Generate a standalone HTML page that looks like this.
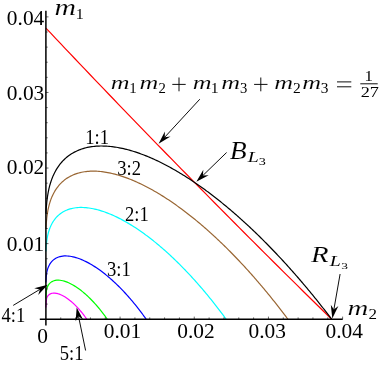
<!DOCTYPE html>
<html><head><meta charset="utf-8"><title>chart</title>
<style>html,body{margin:0;padding:0;background:#fff;}body{width:383px;height:365px;overflow:hidden;position:relative;font-family:"Liberation Serif",serif;}</style>
</head><body>
<svg width="383" height="365" viewBox="0 0 383 365" style="position:absolute;left:0;top:0;will-change:transform">
<rect width="383" height="365" fill="#fff"/>
<path d="M45.90 28.06 L50.74 33.19 L55.58 38.32 L60.42 43.44 L65.26 48.55 L70.10 53.65 L74.94 58.75 L79.78 63.84 L84.61 68.92 L89.45 73.99 L94.29 79.06 L99.13 84.12 L103.97 89.18 L108.81 94.22 L113.65 99.26 L118.49 104.30 L123.33 109.32 L128.17 114.34 L133.01 119.35 L137.85 124.36 L142.69 129.35 L147.53 134.35 L152.36 139.33 L157.20 144.31 L162.04 149.28 L166.88 154.24 L171.72 159.19 L176.56 164.14 L181.40 169.09 L186.24 174.02 L191.08 178.95 L195.92 183.87 L200.76 188.79 L205.60 193.70 L210.44 198.60 L215.28 203.49 L220.11 208.38 L224.95 213.26 L229.79 218.14 L234.63 223.00 L239.47 227.87 L244.31 232.72 L249.15 237.57 L253.99 242.41 L258.83 247.24 L263.67 252.07 L268.51 256.89 L273.35 261.71 L278.19 266.52 L283.03 271.32 L287.87 276.11 L292.70 280.90 L297.54 285.68 L302.38 290.46 L307.22 295.23 L312.06 299.99 L316.90 304.75 L321.74 309.50 L326.58 314.24 L331.42 318.98" stroke="#ff0000" stroke-width="1.20" fill="none" stroke-linejoin="round"/>
<path d="M45.90 307.51 L46.20 302.51 L46.60 298.51 L47.06 297.29 L47.64 296.23 L48.39 295.27 L49.46 294.35 L50.73 293.67 L52.13 293.25 L53.54 293.09 L54.81 293.11 L56.28 293.30 L58.00 293.70 L59.30 294.12 L60.74 294.70 L61.85 295.21 L63.30 295.96 L64.75 296.80 L66.19 297.72 L67.64 298.73 L68.61 299.44 L69.57 300.19 L70.54 300.97 L71.50 301.78 L72.47 302.63 L73.44 303.51 L74.40 304.42 L75.37 305.37 L76.33 306.35 L77.30 307.36 L78.26 308.41 L79.23 309.49 L80.19 310.61 L81.16 311.76 L82.12 312.95 L83.09 314.17 L84.06 315.44 L85.02 316.74 L85.99 318.08 L86.77 319.20" stroke="#ff00ff" stroke-width="1.20" fill="none" stroke-linejoin="round"/>
<path d="M45.90 298.57 L46.20 293.57 L46.60 289.57 L46.95 288.27 L47.39 287.02 L47.93 285.87 L48.66 284.66 L49.46 283.64 L50.49 282.63 L51.53 281.87 L52.80 281.19 L53.94 280.75 L55.27 280.41 L56.82 280.20 L58.63 280.17 L60.00 280.27 L61.37 280.47 L62.82 280.77 L64.26 281.16 L65.71 281.63 L67.16 282.17 L68.61 282.78 L70.06 283.46 L71.50 284.20 L72.95 285.01 L74.40 285.87 L75.85 286.78 L77.30 287.75 L78.75 288.77 L80.19 289.85 L81.16 290.59 L82.12 291.36 L83.09 292.15 L84.06 292.96 L85.02 293.79 L85.99 294.64 L86.95 295.52 L87.92 296.42 L88.88 297.34 L89.85 298.28 L90.81 299.24 L91.78 300.23 L92.74 301.24 L93.71 302.27 L94.68 303.32 L95.64 304.39 L96.61 305.49 L97.57 306.61 L98.54 307.76 L99.50 308.92 L100.47 310.12 L101.43 311.33 L102.40 312.57 L103.36 313.84 L104.33 315.13 L105.30 316.45 L106.26 317.79 L107.25 319.20" stroke="#00ff00" stroke-width="1.20" fill="none" stroke-linejoin="round"/>
<path d="M45.90 282.43 L46.20 277.43 L46.60 273.43 L46.84 272.08 L47.12 270.86 L47.47 269.54 L47.93 268.14 L48.39 266.95 L48.95 265.71 L49.64 264.42 L50.49 263.11 L51.25 262.11 L52.13 261.12 L53.16 260.14 L54.36 259.19 L55.76 258.30 L57.40 257.50 L58.63 257.02 L60.00 256.61 L61.37 256.31 L62.82 256.10 L64.26 255.97 L65.71 255.94 L67.16 255.98 L68.61 256.09 L70.06 256.27 L71.50 256.51 L72.95 256.80 L74.40 257.15 L75.85 257.56 L77.30 258.01 L78.75 258.51 L80.19 259.05 L81.64 259.63 L83.09 260.26 L84.54 260.93 L85.99 261.63 L87.43 262.37 L88.88 263.15 L90.33 263.97 L91.78 264.82 L93.23 265.70 L94.68 266.62 L96.12 267.57 L97.57 268.55 L99.02 269.57 L100.47 270.61 L101.43 271.33 L102.40 272.06 L103.36 272.80 L104.33 273.55 L105.30 274.32 L106.26 275.10 L107.23 275.90 L108.19 276.71 L109.16 277.53 L110.12 278.36 L111.09 279.21 L112.05 280.07 L113.02 280.95 L113.98 281.84 L114.95 282.74 L115.92 283.65 L116.88 284.58 L117.85 285.52 L118.81 286.47 L119.78 287.44 L120.74 288.42 L121.71 289.41 L122.67 290.42 L123.64 291.43 L124.60 292.47 L125.57 293.51 L126.54 294.57 L127.50 295.65 L128.47 296.73 L129.43 297.83 L130.40 298.95 L131.36 300.08 L132.33 301.22 L133.29 302.37 L134.26 303.54 L135.22 304.73 L136.19 305.93 L137.16 307.14 L138.12 308.37 L139.09 309.61 L140.05 310.87 L141.02 312.15 L141.98 313.44 L142.95 314.74 L143.91 316.06 L144.88 317.40 L146.16 319.20" stroke="#0000ff" stroke-width="1.20" fill="none" stroke-linejoin="round"/>
<path d="M45.90 251.41 L46.20 246.41 L46.60 242.41 L46.75 241.11 L46.95 239.71 L47.18 238.22 L47.47 236.64 L47.73 235.38 L48.04 234.07 L48.39 232.70 L48.80 231.27 L49.28 229.78 L49.84 228.23 L50.49 226.63 L50.98 225.54 L51.53 224.42 L52.13 223.29 L52.80 222.14 L53.54 220.97 L54.36 219.80 L55.27 218.62 L56.28 217.45 L57.40 216.28 L58.63 215.12 L60.00 213.99 L61.37 213.00 L62.82 212.07 L64.26 211.26 L65.71 210.55 L67.16 209.93 L68.61 209.40 L70.06 208.94 L71.50 208.56 L72.95 208.23 L74.40 207.97 L75.85 207.77 L77.30 207.62 L78.75 207.52 L80.19 207.46 L81.64 207.45 L83.09 207.48 L84.54 207.56 L85.99 207.67 L87.43 207.82 L88.88 208.00 L90.33 208.22 L91.78 208.47 L93.23 208.75 L94.68 209.06 L96.12 209.41 L97.57 209.78 L99.02 210.18 L100.47 210.60 L101.92 211.06 L103.36 211.54 L104.81 212.04 L106.26 212.57 L107.71 213.12 L109.16 213.70 L110.61 214.29 L112.05 214.91 L113.50 215.56 L114.95 216.22 L116.40 216.91 L117.85 217.62 L119.29 218.34 L120.74 219.09 L122.19 219.86 L123.64 220.65 L125.09 221.45 L126.54 222.28 L127.98 223.12 L129.43 223.99 L130.88 224.87 L132.33 225.77 L133.78 226.68 L135.22 227.62 L136.67 228.57 L138.12 229.55 L139.57 230.53 L141.02 231.54 L142.47 232.56 L143.91 233.60 L145.36 234.66 L146.33 235.37 L147.29 236.09 L148.26 236.82 L149.22 237.56 L150.19 238.30 L151.15 239.05 L152.12 239.81 L153.09 240.57 L154.05 241.35 L155.02 242.12 L155.98 242.91 L156.95 243.70 L157.91 244.51 L158.88 245.31 L159.84 246.13 L160.81 246.95 L161.77 247.78 L162.74 248.62 L163.71 249.46 L164.67 250.31 L165.64 251.17 L166.60 252.03 L167.57 252.90 L168.53 253.78 L169.50 254.67 L170.46 255.56 L171.43 256.46 L172.39 257.37 L173.36 258.28 L174.33 259.20 L175.29 260.13 L176.26 261.07 L177.22 262.01 L178.19 262.96 L179.15 263.91 L180.12 264.87 L181.08 265.84 L182.05 266.82 L183.01 267.81 L183.98 268.80 L184.95 269.79 L185.91 270.80 L186.88 271.81 L187.84 272.83 L188.81 273.86 L189.77 274.89 L190.74 275.93 L191.70 276.98 L192.67 278.04 L193.63 279.10 L194.60 280.17 L195.57 281.24 L196.53 282.33 L197.50 283.42 L198.46 284.52 L199.43 285.62 L200.39 286.74 L201.36 287.86 L202.32 288.98 L203.29 290.12 L204.25 291.26 L205.22 292.41 L206.19 293.57 L207.15 294.74 L208.12 295.91 L209.08 297.09 L210.05 298.28 L211.01 299.47 L211.98 300.68 L212.94 301.89 L213.91 303.11 L214.87 304.33 L215.84 305.57 L216.81 306.81 L217.77 308.06 L218.74 309.32 L219.70 310.58 L220.67 311.86 L221.63 313.14 L222.60 314.43 L223.56 315.73 L224.53 317.04 L225.49 318.35 L226.11 319.20" stroke="#00ffff" stroke-width="1.20" fill="none" stroke-linejoin="round"/>
<path d="M45.90 228.84 L46.20 223.84 L46.60 219.84 L46.75 218.27 L46.89 217.01 L47.06 215.70 L47.25 214.31 L47.47 212.86 L47.73 211.33 L48.04 209.73 L48.39 208.06 L48.80 206.31 L49.11 205.09 L49.46 203.85 L49.84 202.57 L50.26 201.25 L50.73 199.90 L51.25 198.52 L51.82 197.11 L52.46 195.67 L53.16 194.19 L53.94 192.70 L54.81 191.18 L55.76 189.64 L56.82 188.08 L58.00 186.52 L59.30 184.96 L60.74 183.40 L61.85 182.31 L62.82 181.42 L63.78 180.60 L64.75 179.83 L65.71 179.11 L67.16 178.12 L68.61 177.22 L70.06 176.40 L71.50 175.67 L72.95 175.00 L74.40 174.41 L75.85 173.87 L77.30 173.39 L78.75 172.97 L80.19 172.59 L81.64 172.27 L83.09 171.99 L84.54 171.75 L85.99 171.56 L87.43 171.40 L88.88 171.28 L90.33 171.20 L91.78 171.15 L93.23 171.13 L94.68 171.15 L96.12 171.20 L97.57 171.27 L99.02 171.38 L100.47 171.51 L101.92 171.67 L103.36 171.86 L104.81 172.07 L106.26 172.30 L107.71 172.56 L109.16 172.85 L110.61 173.15 L112.05 173.48 L113.50 173.83 L114.95 174.20 L116.40 174.59 L117.85 175.00 L119.29 175.43 L120.74 175.88 L122.19 176.35 L123.64 176.84 L125.09 177.34 L126.54 177.87 L127.98 178.41 L129.43 178.97 L130.88 179.55 L132.33 180.14 L133.78 180.75 L135.22 181.38 L136.67 182.02 L138.12 182.68 L139.57 183.35 L141.02 184.04 L142.47 184.75 L143.91 185.47 L145.36 186.20 L146.81 186.95 L148.26 187.72 L149.71 188.50 L151.15 189.29 L152.60 190.10 L154.05 190.92 L155.50 191.75 L156.95 192.60 L158.40 193.47 L159.84 194.34 L161.29 195.23 L162.74 196.13 L164.19 197.05 L165.64 197.98 L167.08 198.92 L168.53 199.87 L169.98 200.84 L171.43 201.82 L172.88 202.81 L174.33 203.82 L175.77 204.84 L177.22 205.87 L178.67 206.91 L180.12 207.96 L181.57 209.03 L182.53 209.75 L183.50 210.47 L184.46 211.20 L185.43 211.93 L186.39 212.67 L187.36 213.42 L188.32 214.17 L189.29 214.92 L190.26 215.68 L191.22 216.45 L192.19 217.22 L193.15 218.00 L194.12 218.78 L195.08 219.56 L196.05 220.36 L197.01 221.15 L197.98 221.95 L198.94 222.76 L199.91 223.57 L200.88 224.39 L201.84 225.22 L202.81 226.04 L203.77 226.88 L204.74 227.71 L205.70 228.56 L206.67 229.41 L207.63 230.26 L208.60 231.12 L209.56 231.98 L210.53 232.85 L211.50 233.72 L212.46 234.60 L213.43 235.49 L214.39 236.38 L215.36 237.27 L216.32 238.17 L217.29 239.07 L218.25 239.98 L219.22 240.90 L220.18 241.82 L221.15 242.74 L222.12 243.67 L223.08 244.61 L224.05 245.54 L225.01 246.49 L225.98 247.44 L226.94 248.39 L227.91 249.35 L228.87 250.32 L229.84 251.29 L230.80 252.26 L231.77 253.24 L232.74 254.23 L233.70 255.22 L234.67 256.21 L235.63 257.22 L236.60 258.22 L237.56 259.23 L238.53 260.25 L239.49 261.27 L240.46 262.29 L241.42 263.32 L242.39 264.36 L243.36 265.40 L244.32 266.45 L245.29 267.50 L246.25 268.56 L247.22 269.62 L248.18 270.69 L249.15 271.76 L250.11 272.84 L251.08 273.92 L252.04 275.01 L253.01 276.10 L253.98 277.20 L254.94 278.30 L255.91 279.41 L256.87 280.52 L257.84 281.64 L258.80 282.77 L259.77 283.90 L260.73 285.03 L261.70 286.17 L262.66 287.32 L263.63 288.47 L264.60 289.62 L265.56 290.79 L266.53 291.95 L267.49 293.13 L268.46 294.30 L269.42 295.49 L270.39 296.68 L271.35 297.87 L272.32 299.07 L273.28 300.28 L274.25 301.49 L275.22 302.70 L276.18 303.93 L277.15 305.15 L278.11 306.39 L279.08 307.62 L280.04 308.87 L281.01 310.12 L281.97 311.38 L282.94 312.64 L283.90 313.90 L284.87 315.18 L285.84 316.46 L286.80 317.74 L287.89 319.20" stroke="#996633" stroke-width="1.20" fill="none" stroke-linejoin="round"/>
<path d="M45.90 213.46 L46.20 208.46 L46.60 204.46 L46.71 203.16 L46.84 201.79 L47.00 200.35 L47.18 198.84 L47.39 197.25 L47.64 195.58 L47.93 193.83 L48.15 192.61 L48.39 191.35 L48.66 190.06 L48.95 188.73 L49.28 187.35 L49.64 185.94 L50.04 184.48 L50.49 182.99 L50.98 181.45 L51.53 179.87 L52.13 178.26 L52.80 176.61 L53.54 174.92 L54.36 173.20 L55.27 171.45 L56.28 169.67 L57.40 167.87 L58.63 166.05 L60.00 164.22 L60.88 163.12 L61.85 162.00 L62.82 160.95 L63.78 159.96 L64.75 159.03 L65.71 158.15 L66.68 157.33 L67.64 156.54 L68.61 155.81 L70.06 154.77 L71.50 153.83 L72.95 152.95 L74.40 152.15 L75.85 151.42 L77.30 150.74 L78.75 150.12 L80.19 149.56 L81.64 149.05 L83.09 148.58 L84.54 148.16 L85.99 147.79 L87.43 147.45 L88.88 147.16 L90.33 146.90 L91.78 146.68 L93.23 146.49 L94.68 146.33 L96.12 146.21 L97.57 146.11 L99.02 146.05 L100.47 146.02 L101.92 146.01 L103.36 146.03 L104.81 146.07 L106.26 146.14 L107.71 146.23 L109.16 146.35 L110.61 146.49 L112.05 146.66 L113.50 146.84 L114.95 147.05 L116.40 147.28 L117.85 147.52 L119.29 147.79 L120.74 148.08 L122.19 148.39 L123.64 148.71 L125.09 149.05 L126.54 149.41 L127.98 149.79 L129.43 150.19 L130.88 150.60 L132.33 151.03 L133.78 151.48 L135.22 151.94 L136.67 152.42 L138.12 152.91 L139.57 153.42 L141.02 153.94 L142.47 154.48 L143.91 155.03 L145.36 155.60 L146.81 156.18 L148.26 156.78 L149.71 157.39 L151.15 158.01 L152.60 158.65 L154.05 159.30 L155.50 159.97 L156.95 160.64 L158.40 161.33 L159.84 162.04 L161.29 162.75 L162.74 163.48 L164.19 164.22 L165.64 164.97 L167.08 165.74 L168.53 166.51 L169.98 167.30 L171.43 168.10 L172.88 168.92 L174.33 169.74 L175.77 170.58 L177.22 171.42 L178.67 172.28 L180.12 173.15 L181.57 174.03 L183.01 174.92 L184.46 175.83 L185.91 176.74 L187.36 177.67 L188.81 178.60 L190.26 179.55 L191.70 180.51 L193.15 181.48 L194.60 182.45 L196.05 183.44 L197.50 184.44 L198.94 185.45 L200.39 186.47 L201.84 187.50 L203.29 188.54 L204.74 189.60 L206.19 190.66 L207.15 191.37 L208.12 192.09 L209.08 192.81 L210.05 193.54 L211.01 194.27 L211.98 195.00 L212.94 195.74 L213.91 196.49 L214.87 197.24 L215.84 197.99 L216.81 198.75 L217.77 199.51 L218.74 200.27 L219.70 201.04 L220.67 201.82 L221.63 202.60 L222.60 203.38 L223.56 204.17 L224.53 204.96 L225.49 205.76 L226.46 206.56 L227.43 207.36 L228.39 208.17 L229.36 208.99 L230.32 209.80 L231.29 210.63 L232.25 211.45 L233.22 212.28 L234.18 213.12 L235.15 213.96 L236.11 214.80 L237.08 215.65 L238.05 216.50 L239.01 217.36 L239.98 218.22 L240.94 219.08 L241.91 219.95 L242.87 220.82 L243.84 221.70 L244.80 222.58 L245.77 223.47 L246.73 224.36 L247.70 225.25 L248.67 226.15 L249.63 227.05 L250.60 227.96 L251.56 228.87 L252.53 229.78 L253.49 230.70 L254.46 231.63 L255.42 232.55 L256.39 233.48 L257.35 234.42 L258.32 235.36 L259.29 236.30 L260.25 237.25 L261.22 238.20 L262.18 239.16 L263.15 240.12 L264.11 241.09 L265.08 242.06 L266.04 243.03 L267.01 244.01 L267.97 244.99 L268.94 245.97 L269.91 246.96 L270.87 247.96 L271.84 248.96 L272.80 249.96 L273.77 250.97 L274.73 251.98 L275.70 252.99 L276.66 254.01 L277.63 255.04 L278.59 256.06 L279.56 257.10 L280.53 258.13 L281.49 259.17 L282.46 260.22 L283.42 261.27 L284.39 262.32 L285.35 263.38 L286.32 264.44 L287.28 265.51 L288.25 266.58 L289.21 267.65 L290.18 268.73 L291.15 269.81 L292.11 270.90 L293.08 271.99 L294.04 273.09 L295.01 274.19 L295.97 275.29 L296.94 276.40 L297.90 277.51 L298.87 278.63 L299.83 279.75 L300.80 280.88 L301.77 282.01 L302.73 283.14 L303.70 284.28 L304.66 285.43 L305.63 286.57 L306.59 287.73 L307.56 288.88 L308.52 290.04 L309.49 291.21 L310.45 292.38 L311.42 293.55 L312.39 294.73 L313.35 295.92 L314.32 297.10 L315.28 298.30 L316.25 299.49 L317.21 300.69 L318.18 301.90 L319.14 303.11 L320.11 304.32 L321.07 305.54 L322.04 306.77 L323.01 308.00 L323.97 309.23 L324.94 310.47 L325.90 311.71 L326.87 312.96 L327.83 314.21 L328.80 315.46 L329.76 316.73 L330.73 317.99 L331.65 319.20" stroke="#000000" stroke-width="1.20" fill="none" stroke-linejoin="round"/>
<path d="M60.74 319.20 V317.40 M75.57 319.20 V317.40 M90.41 319.20 V317.40 M105.24 319.20 V317.40 M120.08 319.20 V316.60 M134.92 319.20 V317.40 M149.75 319.20 V317.40 M164.59 319.20 V317.40 M179.42 319.20 V317.40 M194.26 319.20 V316.60 M209.10 319.20 V317.40 M223.93 319.20 V317.40 M238.77 319.20 V317.40 M253.60 319.20 V317.40 M268.44 319.20 V316.60 M283.28 319.20 V317.40 M298.11 319.20 V317.40 M312.95 319.20 V317.40 M327.78 319.20 V317.40 M342.62 319.20 V316.60 M45.90 304.08 H47.70 M45.90 288.97 H47.70 M45.90 273.85 H47.70 M45.90 258.74 H47.70 M45.90 243.62 H48.50 M45.90 228.50 H47.70 M45.90 213.39 H47.70 M45.90 198.27 H47.70 M45.90 183.16 H47.70 M45.90 168.04 H48.50 M45.90 152.92 H47.70 M45.90 137.81 H47.70 M45.90 122.69 H47.70 M45.90 107.58 H47.70 M45.90 92.46 H48.50 M45.90 77.34 H47.70 M45.90 62.23 H47.70 M45.90 47.11 H47.70 M45.90 32.00 H47.70 M45.90 16.88 H48.50" stroke="#000" stroke-width="0.6" fill="none"/>
<path d="M39.8 319.20 H342.7 M45.90 10.8 V325.4" stroke="#000" stroke-width="1.5" fill="none"/>
<line x1="199.80" y1="99.20" x2="164.77" y2="137.15" stroke="#000" stroke-width="0.95"/><path d="M158.59 143.84 L164.85 131.38 L164.77 137.15 L170.51 136.61 Z" fill="#000"/>
<line x1="226.60" y1="152.50" x2="202.91" y2="175.47" stroke="#000" stroke-width="0.95"/><path d="M196.37 181.82 L203.31 169.73 L202.91 175.47 L208.67 175.25 Z" fill="#000"/>
<line x1="340.10" y1="274.00" x2="333.87" y2="309.62" stroke="#000" stroke-width="0.95"/><path d="M332.30 318.59 L330.81 304.73 L333.87 309.62 L338.40 306.06 Z" fill="#000"/>
<line x1="13.20" y1="305.40" x2="39.90" y2="289.38" stroke="#000" stroke-width="0.95"/><path d="M47.71 284.69 L38.20 294.89 L39.90 289.38 L34.24 288.28 Z" fill="#000"/>
<line x1="85.60" y1="350.50" x2="78.53" y2="316.34" stroke="#000" stroke-width="0.95"/><path d="M76.68 307.41 L83.17 319.75 L78.53 316.34 L75.63 321.31 Z" fill="#000"/>
<path d="M172.30 84.4 H185.70 M179.00 77.50 V91.30 M254.10 84.4 H267.50 M260.80 77.50 V91.30 M337.0 81.9 H351.3 M337.0 86.8 H351.3 M360.3 83.8 H377.7" stroke="#000" stroke-width="0.95" fill="none"/>
<g font-family="Liberation Serif, serif" fill="#000"><text transform="translate(25.60 24.90) scale(1.060 1)" font-size="20.20" text-anchor="middle">0.04</text><text transform="translate(25.60 99.50) scale(1.060 1)" font-size="20.20" text-anchor="middle">0.03</text><text transform="translate(25.60 173.70) scale(1.060 1)" font-size="20.20" text-anchor="middle">0.02</text><text transform="translate(25.60 251.30) scale(1.060 1)" font-size="20.20" text-anchor="middle">0.01</text><text transform="translate(122.50 338.20) scale(1.060 1)" font-size="20.20" text-anchor="middle">0.01</text><text transform="translate(196.00 338.20) scale(1.060 1)" font-size="20.20" text-anchor="middle">0.02</text><text transform="translate(267.30 338.20) scale(1.060 1)" font-size="20.20" text-anchor="middle">0.03</text><text transform="translate(344.30 338.20) scale(1.060 1)" font-size="20.20" text-anchor="middle">0.04</text><text transform="translate(42.50 343.30) scale(1.060 1)" font-size="20.20" text-anchor="middle">0</text><text transform="translate(97.20 143.60) scale(0.930 1)" font-size="20.00" text-anchor="middle">1:1</text><text transform="translate(129.10 174.90) scale(0.930 1)" font-size="20.00" text-anchor="middle">3:2</text><text transform="translate(136.80 221.00) scale(0.930 1)" font-size="20.00" text-anchor="middle">2:1</text><text transform="translate(118.80 276.20) scale(0.930 1)" font-size="20.00" text-anchor="middle">3:1</text><text transform="translate(13.30 321.90) scale(0.930 1)" font-size="20.00" text-anchor="middle">4:1</text><text transform="translate(71.60 360.20) scale(0.930 1)" font-size="20.00" text-anchor="middle">5:1</text><text transform="translate(54.51 15.47) scale(1.282 1)" font-size="23.23" font-style="italic" stroke="#fff" stroke-width="0.12" text-anchor="start">m</text><text transform="translate(75.81 18.95) scale(1.080 1)" font-size="14.81" text-anchor="start">1</text><text transform="translate(347.54 314.95) scale(1.382 1)" font-size="20.86" font-style="italic" stroke="#fff" stroke-width="0.12" text-anchor="start">m</text><text transform="translate(368.49 319.05) scale(1.089 1)" font-size="15.61" text-anchor="start">2</text><text transform="translate(110.64 88.85) scale(1.346 1)" font-size="19.35" font-style="italic" stroke="#fff" stroke-width="0.12" text-anchor="start">m</text><text transform="translate(139.44 88.85) scale(1.346 1)" font-size="19.35" font-style="italic" stroke="#fff" stroke-width="0.12" text-anchor="start">m</text><text transform="translate(192.74 88.85) scale(1.346 1)" font-size="19.35" font-style="italic" stroke="#fff" stroke-width="0.12" text-anchor="start">m</text><text transform="translate(221.24 88.85) scale(1.346 1)" font-size="19.35" font-style="italic" stroke="#fff" stroke-width="0.12" text-anchor="start">m</text><text transform="translate(274.34 88.85) scale(1.346 1)" font-size="19.35" font-style="italic" stroke="#fff" stroke-width="0.12" text-anchor="start">m</text><text transform="translate(302.14 88.85) scale(1.346 1)" font-size="19.35" font-style="italic" stroke="#fff" stroke-width="0.12" text-anchor="start">m</text><text transform="translate(129.21 92.75) scale(1.046 1)" font-size="14.20" text-anchor="start">1</text><text transform="translate(158.59 92.75) scale(1.047 1)" font-size="14.09" text-anchor="start">2</text><text transform="translate(210.74 92.75) scale(1.107 1)" font-size="14.20" text-anchor="start">1</text><text transform="translate(240.12 92.61) scale(1.054 1)" font-size="13.88" text-anchor="start">3</text><text transform="translate(293.05 92.75) scale(1.100 1)" font-size="14.09" text-anchor="start">2</text><text transform="translate(320.78 92.61) scale(1.107 1)" font-size="13.88" text-anchor="start">3</text><text transform="translate(364.53 81.35) scale(1.162 1)" font-size="14.50" text-anchor="start">1</text><text transform="translate(360.63 97.05) scale(1.243 1)" font-size="14.70" text-anchor="start">27</text><text transform="translate(229.77 158.85) scale(1.136 1)" font-size="24.43" font-style="italic" stroke="#fff" stroke-width="0.12" text-anchor="start">B</text><text transform="translate(247.75 162.45) scale(1.370 1)" font-size="14.46" font-style="italic" text-anchor="start">L</text><text transform="translate(258.64 164.95) scale(1.458 1)" font-size="9.70" text-anchor="start">3</text><text transform="translate(310.99 262.45) scale(1.201 1)" font-size="24.00" font-style="italic" stroke="#fff" stroke-width="0.12" text-anchor="start">R</text><text transform="translate(329.75 266.45) scale(1.415 1)" font-size="14.00" font-style="italic" text-anchor="start">L</text><text transform="translate(341.28 268.56) scale(1.473 1)" font-size="9.10" text-anchor="start">3</text></g>
</svg>
</body></html>
